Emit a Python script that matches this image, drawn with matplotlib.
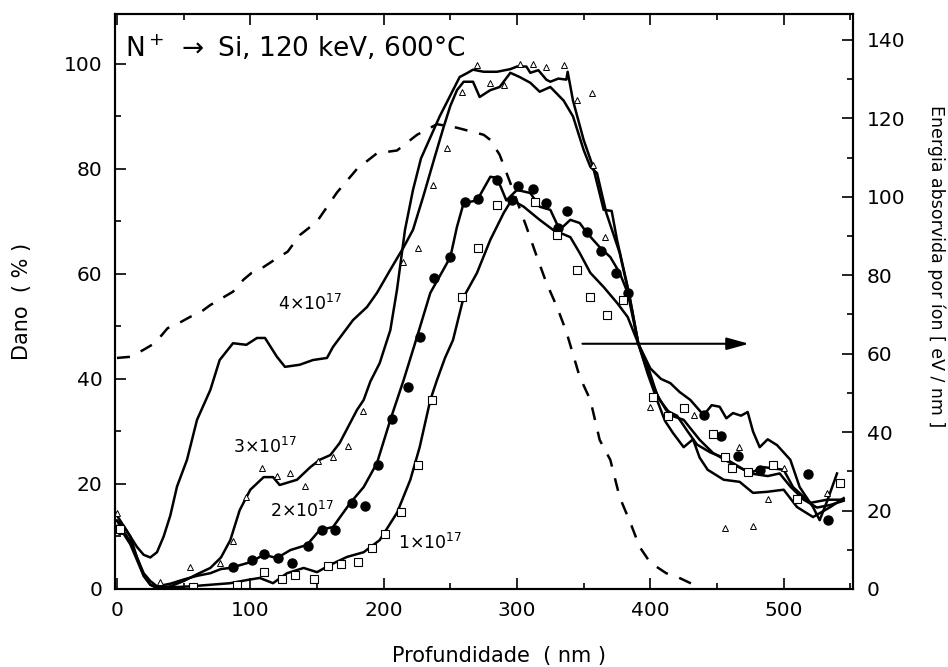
import matplotlib.pyplot as plt
from matplotlib.ticker import MultipleLocator

# profundidade (nm) e dano (%) para cada fluência
x_1e17 = [0, 5, 10, 15, 20, 25, 30, 40, 55, 70, 85, 97.5, 107, 117, 127.5, 140, 150, 160, 172.5, 185,
          197, 210, 220, 227, 235, 240, 246, 252, 260, 270, 280, 290, 296, 305, 317, 327, 340, 347, 355, 365,
          375, 383, 391, 398, 405, 412, 420, 428, 435, 445, 455, 465, 475, 488, 497, 505, 515, 525, 535, 545]
y_1e17 = [12, 10.5, 8.5, 5.5, 2.5, 0.8, 0.2, 0.3, 0.5, 0.8, 1.1, 1.7, 2.1, 1.1, 3, 4, 3.2, 4.6, 6.1, 7,
          9.3, 14.5, 20.8, 27, 36, 39.8, 44, 47.4, 55.6, 60.2, 66.5, 71.6, 74.1, 72.8, 70.3, 68.4, 67, 64, 60.2, 57.5,
          54.5, 51.8, 46.7, 42.5, 37, 34, 33, 30, 27.5, 26, 25, 23.5, 22, 21.5, 22, 19.5, 17, 15.5, 16, 16.8]

x_2e17 = [0, 5, 10, 15, 20, 25, 30, 40, 50, 60, 70, 78, 85, 100, 110, 120, 130, 142.5, 152, 162,
          175, 185, 195, 205, 215, 225, 235, 243, 250, 255, 260, 270, 280, 285, 292, 300, 310, 317, 325, 332,
          340, 347, 352.5, 362, 370, 377, 383, 391, 398, 405, 411, 417, 425, 432, 437, 443, 455, 467, 477, 487.5,
          500, 510, 522, 535, 545]
y_2e17 = [13, 11, 9, 6, 3, 1.5, 0.5, 1, 1.8, 2.5, 3, 3.8, 4, 5.1, 6.5, 5.9, 7.4, 8.4, 11.2, 11.8,
          16.4, 19.4, 24, 32.2, 39.8, 48, 56.4, 60, 63.2, 69, 73.5, 74, 78.5, 78.3, 74, 76, 75.4, 72.8, 72.2, 68.4,
          70.3, 69.7, 67.8, 65.1, 63.2, 60.2, 56.4, 46.7, 41, 36, 32, 29.7, 27, 28.5, 25, 22.7, 20.8, 20.4, 18.3, 18.5,
          18.9, 15.6, 13.7, 15.6, 17.3]

x_3e17 = [0, 5, 10, 15, 20, 25, 30, 40, 50, 60, 70, 78, 85, 92, 100, 110, 117, 122, 135, 145,
          152, 160, 167, 180, 185, 190, 197, 205, 210, 216, 222, 228, 235, 242, 250, 257, 263, 267, 275, 285,
          295, 300, 307, 310, 316, 322, 325, 331, 337, 338, 342, 350, 357, 365, 371, 375, 383, 391, 400, 407,
          416, 425, 437, 447, 460, 475, 485, 500, 507, 520, 532.5, 545]
y_3e17 = [14, 12, 10, 6, 2.5, 0.8, 0.2, 0.5, 1.5, 2.8, 4, 6, 9.3, 15, 18.9, 21.3, 21.3, 19.8, 20.8, 23.2,
          24.6, 25.5, 27.8, 34.1, 36, 39.5, 43, 49.3, 57, 68.4, 76, 82, 86, 90, 94, 97.5, 98.3, 98.9, 98.5, 98.5,
          99, 99.5, 99.5, 98.3, 98.8, 97, 96.6, 97.2, 97, 98.5, 93, 85.5, 80.4, 72.2, 72, 66.5, 57.5, 46.7, 40, 36,
          33, 32.2, 28.4, 25.9, 24, 22.1, 23.2, 22.7, 19.4, 16.4, 17, 17]

x_4e17 = [0, 5, 10, 15, 20, 25, 30, 35, 40, 45, 52.5, 60, 70, 77, 87, 97, 105, 111, 120, 126,
          137, 147, 157.5, 162, 177, 187.5, 195, 205, 215, 222, 230, 238, 245, 250, 255, 260, 267, 272, 280, 287,
          295, 302, 310, 317, 325, 335, 342, 350, 355, 360, 367, 377, 385, 391, 400, 408, 415, 422, 430, 440,
          446, 452, 457, 462, 468, 473, 477, 482, 488, 495, 505, 512, 522, 527, 533, 540]
y_4e17 = [13, 12, 10, 8, 6.5, 6, 7, 10, 14, 19.5, 24.6, 32.2, 37.9, 43.6, 46.8, 46.5, 47.8, 47.8, 44.2, 42.3,
          42.7, 43.6, 44, 46.1, 51.2, 53.7, 56.4, 60.8, 65.1, 68.4, 75, 82, 88, 92, 95, 96.6, 96.6, 93.7, 95, 95.6,
          98.3, 97.5, 96.4, 94.7, 95.6, 93, 90, 83.6, 80.4, 79.2, 71.6, 64, 55, 46.7, 42, 40, 39.2, 37.5, 36, 33.1,
          35, 34.7, 32.5, 33.5, 33, 33.7, 30, 27, 28.5, 27.4, 24.6, 19.4, 15.6, 13.1, 17, 22]

# pontos medidos
tri_x = [0, 3, 32, 55, 77, 87, 97, 109, 120, 130, 141, 151, 162, 173, 184.5, 214.5, 226, 237, 247.5, 259,
         270, 280, 290, 302, 312, 322, 335, 345, 356, 357, 366, 400, 433, 456, 466.5, 477, 488, 500, 532.5]
tri_y = [14.5, 11, 1.3, 4.2, 5, 9.1, 17.5, 23, 21.5, 22, 19.6, 24.4, 25.1, 27.2, 33.9, 62.3, 65, 77, 84, 94.7,
         99.8, 96.4, 96, 100, 100, 99.5, 99.8, 93.1, 94.5, 80.8, 67, 34.7, 33.1, 11.6, 27, 12, 17.1, 23, 18.3]

circ_x = [87, 101, 110, 121, 131, 143, 154, 163.5, 176, 186, 196, 206, 218, 227, 238, 250, 261, 271, 285, 296,
          301, 312, 322, 331, 337.5, 352.5, 363, 374, 383, 440, 453, 466, 482, 518, 533]
circ_y = [4.2, 5.5, 6.7, 5.9, 4.9, 8.2, 11.2, 11.2, 16.4, 15.8, 23.6, 32.4, 38.5, 48, 59.2, 63.2, 73.7, 74.3, 77.9, 74.1,
          76.8, 76.2, 73.5, 68.8, 72, 68, 64.4, 60.2, 56.4, 33.1, 29.1, 25.3, 22.7, 21.9, 13.1]

sq_x = [2, 57, 90, 110, 124, 133.5, 147.5, 158, 168, 180.5, 191, 201, 213, 226, 236, 259, 271, 285, 313.5, 330,
        345, 355, 367.5, 379.5, 402, 413, 425, 447, 456, 461, 473, 492, 510, 542]
sq_y = [11.5, 0.4, 0.8, 3.2, 1.9, 2.7, 1.9, 4.4, 4.8, 5.1, 7.8, 10.5, 14.7, 23.6, 36, 55.6, 65, 73.1, 73.7, 67.4,
        60.8, 55.6, 52.2, 55, 36.6, 33, 34.5, 29.5, 25.1, 23, 22.3, 23.6, 17.1, 20.2]

# energia absorvida por íon (eV/nm), eixo da direita
x_energia = [0, 10, 19.5, 28.5, 38, 47, 55, 62, 70, 79, 87, 95, 101, 110, 118.5, 128, 137, 150, 165, 180,
             195, 210, 225, 240, 255, 275, 280, 287, 295, 307, 315, 322, 330, 337, 347, 355, 362, 370, 377, 385,
             392, 400, 412, 420, 430, 437]
y_energia = [58.9, 59.2, 60.9, 62.7, 66.5, 67.9, 69.4, 70.4, 72.4, 74.2, 75.8, 78.9, 80.6, 82.1, 84, 86, 90.2, 93.7, 101.1, 107.1,
             111.1, 111.8, 115.8, 118.5, 117.6, 115.8, 114.5, 110.7, 103.5, 92.4, 84.6, 78.1, 71.9, 65.6, 54.1, 48.2, 38, 32.9, 23.4, 16.9,
             10.7, 6.7, 4, 3.1, 1.5, 0.5]

fig = plt.figure(figsize=(9.48, 6.67), dpi=100)
ax = fig.add_axes([0.1213, 0.117, 0.7785, 0.862])
ax2 = ax.twinx()

lw = 1.8
for xs, ys in [(x_1e17, y_1e17), (x_2e17, y_2e17), (x_3e17, y_3e17), (x_4e17, y_4e17)]:
    ax.plot(xs, ys, color='black', lw=lw, solid_joinstyle='round')

ax.plot(tri_x, tri_y, ls='none', marker='^', ms=5, mfc='white', mec='black', mew=0.7)
ax.plot(circ_x, circ_y, ls='none', marker='o', ms=6.5, mfc='black', mec='black')
ax.plot(sq_x, sq_y, ls='none', marker='s', ms=6, mfc='white', mec='black', mew=0.8)

ax2.plot(x_energia, y_energia, color='black', lw=1.8, dashes=(5.2, 4.8))

ax.set_xlim(-1.5, 552)
ax.set_ylim(0, 109.5)
ax2.set_ylim(0, 146.6)

ax.xaxis.set_major_locator(MultipleLocator(100))
ax.xaxis.set_minor_locator(MultipleLocator(50))
ax.yaxis.set_major_locator(MultipleLocator(20))
ax.yaxis.set_minor_locator(MultipleLocator(10))
ax2.yaxis.set_major_locator(MultipleLocator(20))
ax2.yaxis.set_minor_locator(MultipleLocator(10))

ax.tick_params(which='both', direction='in', top=True, right=False, labelsize=14.5, width=1.2, pad=9)
ax.tick_params(which='major', length=8)
ax.tick_params(which='minor', length=4)
ax2.tick_params(which='both', direction='in', labelsize=14.5, width=1.2, pad=10)
ax2.tick_params(which='major', length=8)
ax2.tick_params(which='minor', length=4)

for a in (ax, ax2):
    for s in a.spines.values():
        s.set_linewidth(1.5)

ax.set_xlabel('Profundidade  ( nm )', fontsize=15)
ax.xaxis.set_label_coords(0.52, -0.1)
ax.set_ylabel('Dano  ( % )', fontsize=15)
ax.yaxis.set_label_coords(-0.112, 0.5)
fig.text(936 / 948, 1 - 266 / 667, 'Energia absorvida por íon [ eV / nm ]', rotation=270,
         ha='center', va='center', fontsize=12.5)

ax.text(0.0136, 0.925, r'N$^+$ $\rightarrow$ Si, 120 keV, 600°C', transform=ax.transAxes,
        fontsize=19, va='baseline', ha='left')

ax.text(121, 53.1, r'4$\times$10$^{17}$', fontsize=12.5, va='baseline')
ax.text(87, 25.9, r'3$\times$10$^{17}$', fontsize=12.5, va='baseline')
ax.text(115, 13.7, r'2$\times$10$^{17}$', fontsize=12.5, va='baseline')
ax.text(211, 7.6, r'1$\times$10$^{17}$', fontsize=12.5, va='baseline')

ax.annotate('', xy=(476, 46.7), xytext=(347, 46.7),
            arrowprops=dict(arrowstyle='-|>,head_length=0.9,head_width=0.25', lw=1.5,
                            color='black', mutation_scale=15))

fig.savefig('out.png', dpi=100)
